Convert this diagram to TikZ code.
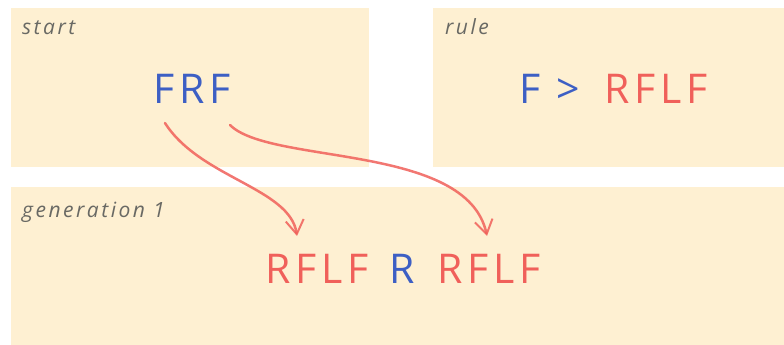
\documentclass[tikz,border=0pt]{standalone}
\usepackage{fontspec}
\usetikzlibrary{arrows.meta,calc}
\newfontfamily\handfont[LetterSpace=12]{Open Sans}
\newfontfamily\labfont[LetterSpace=12]{Open Sans}
\definecolor{panel}{RGB}{254,240,210}
\definecolor{sblue}{RGB}{61,95,196}
\definecolor{sred}{RGB}{240,96,90}
\definecolor{sgray}{RGB}{105,105,100}
\tikzset{
  panelbox/.style={fill=panel,draw=none},
  lab/.style={anchor=base west,inner sep=0pt,text=sgray,font=\labfont\itshape\fontsize{21}{21}\selectfont},
  sym/.style={anchor=base,inner sep=0pt,font=\handfont\fontsize{41}{41}\selectfont},
  arr/.style={draw=sred,opacity=0.85,line width=2.5pt,line cap=round,-{Straight Barb[length=14pt,width=18pt,line width=2pt]}}
}
\begin{document}
\begin{tikzpicture}[x=1pt,y=-1pt]
\useasboundingbox (0,0) rectangle (784,345);
\fill[white] (0,0) rectangle (784,345);
\fill[panelbox] (11,8) rectangle (369,167);
\fill[panelbox] (433,8) rectangle (784,167);
\fill[panelbox] (11,187) rectangle (784,345);
\node[lab] (lstart) at (22,35) {start};
\node[lab] (lrule) at (445,35) {rule};
\node[lab] (lgen) at (22,217) {generation 1};
\node[sym,text=sblue] (frf) at (192,103) {FRF};
\node[sym,text=sblue] (rf) at (530,103) {F};
\node[sym,text=sblue] (rgt) at (568,103) {>};
\node[sym,text=sred] (rr) at (656,103) {RFLF};
\node[sym,text=sred] (ga) at (317,283) {RFLF};
\node[sym,text=sblue] (gr) at (402,283) {R};
\node[sym,text=sred] (gb) at (489,283) {RFLF};
\draw[arr] ($(frf.base)+(-27,20)$) .. controls ($(frf.base)+(8,75)$) and ($(ga.base)+(-27,-95)$) .. ($(ga.base)+(-20,-47)$);
\draw[arr] ($(frf.base)+(38,22)$) .. controls ($(frf.base)+(78,62)$) and ($(gb.base)+(-22,-140)$) .. ($(gb.base)+(-2,-47)$);
\end{tikzpicture}
\end{document}
